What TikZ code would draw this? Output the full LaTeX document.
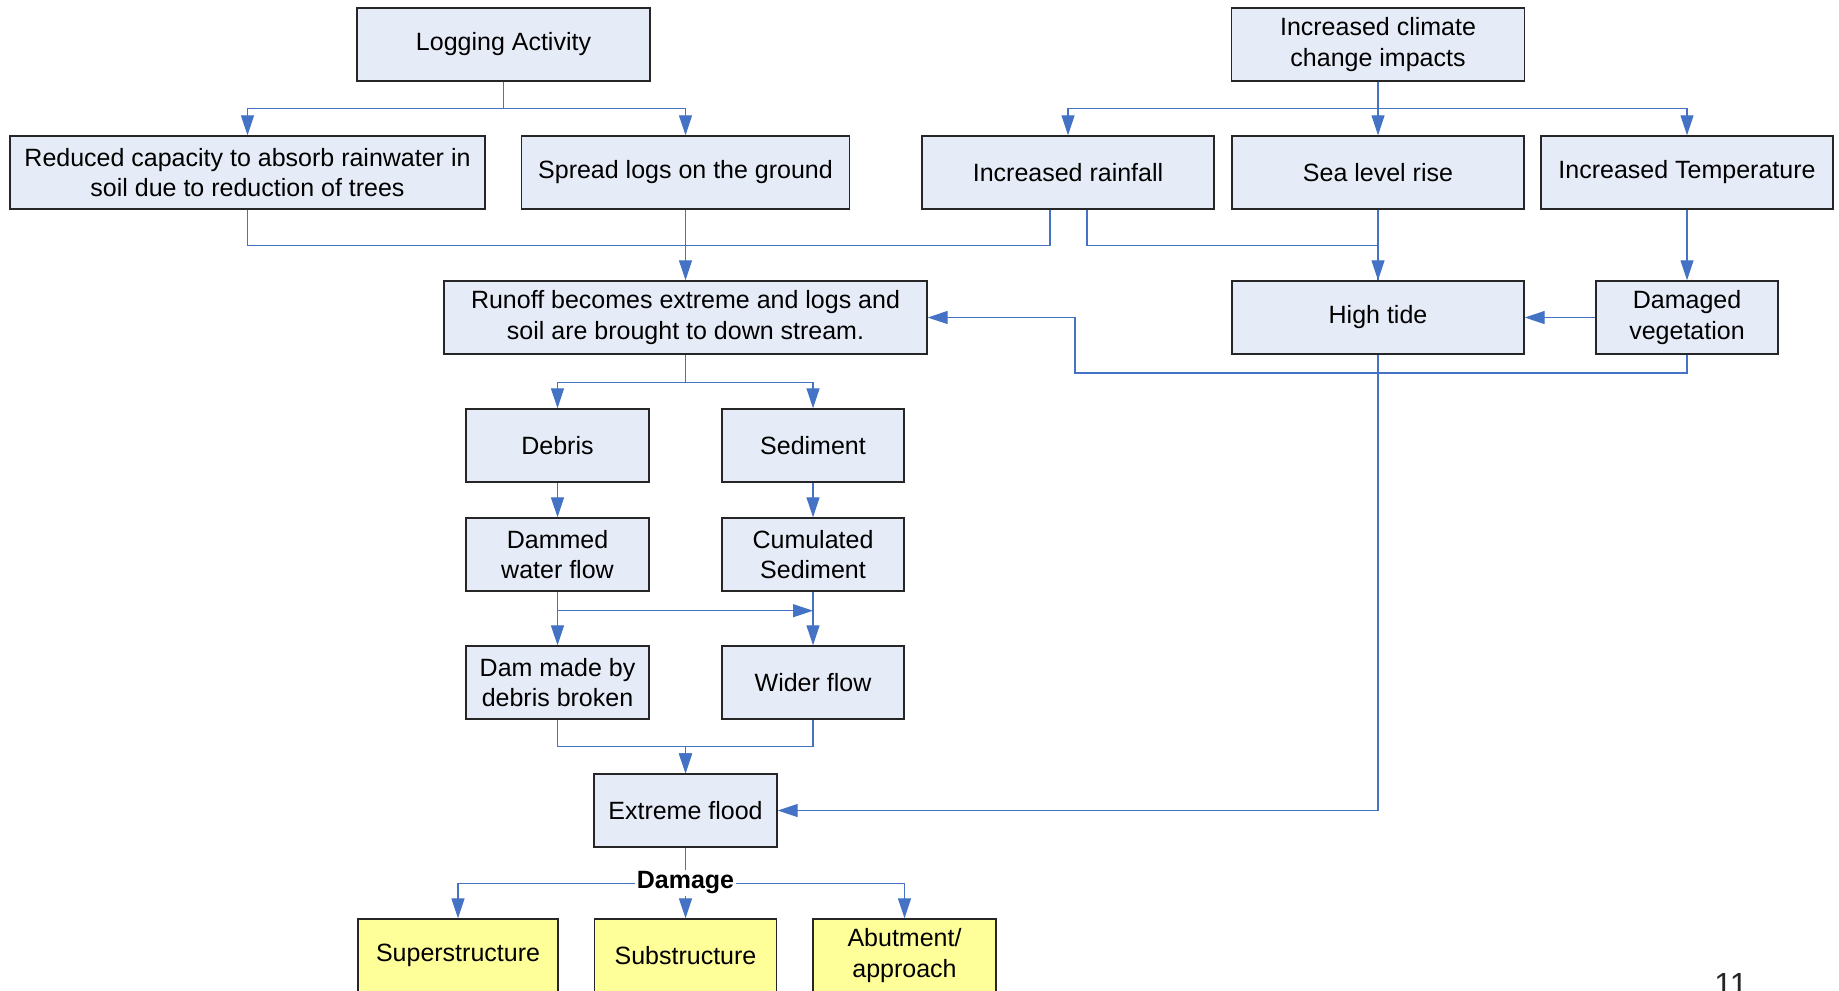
\documentclass[tikz,border=0pt]{standalone}
\usepackage{fontspec}
\setmainfont{Liberation Sans}
\usetikzlibrary{arrows.meta}
\definecolor{boxfill}{RGB}{230,236,247}
\definecolor{yelfill}{RGB}{255,255,153}
\definecolor{linkblue}{RGB}{68,114,196}
\tikzset{
  box/.style={draw=black!85, line width=0.7pt, fill=boxfill, inner sep=0pt, align=center,
    minimum height=36.5pt, font=\fontsize{12.5}{15.25}\selectfont},
  ybox/.style={box, fill=yelfill},
  lnk/.style={draw=linkblue, line width=0.6pt},
  conn/.style={lnk, -{Triangle[length=10pt,width=6.5pt]}},
}
\begin{document}
\begin{tikzpicture}[x=0.5pt, y=-0.5pt]
\useasboundingbox (0,0) rectangle (1839,990);
\clip (0,0) rectangle (1839,990);
% nodes
\node[box, minimum width=146.5pt] (log) at (503.5,44.5) {Logging Activity};
\node[box, minimum width=146.5pt] (clim) at (1378,44.5) {Increased climate\\change impacts};
\node[box, minimum width=237.5pt] (red) at (247.5,172.5) {Reduced capacity to absorb rainwater in\\soil due to reduction of trees};
\node[box, minimum width=164pt] (spread) at (685.5,172.5) {Spread logs on the ground};
\node[box, minimum width=146pt] (rain) at (1068,172.5) {Increased rainfall};
\node[box, minimum width=146pt] (sea) at (1378,172.5) {Sea level rise};
\node[box, minimum width=146pt] (temp) at (1687,172.5) {Increased Temperature};
\node[box, minimum width=241.5pt] (runoff) at (685.5,317.5) {Runoff becomes extreme and logs and\\soil are brought to down stream.};
\node[box, minimum width=146pt] (high) at (1378,317.5) {High tide};
\node[box, minimum width=91pt] (veg) at (1687,317.5) {Damaged\\vegetation};
\node[box, minimum width=91.5pt] (debris) at (557.5,445.5) {Debris};
\node[box, minimum width=91pt] (sed) at (813,445.5) {Sediment};
\node[box, minimum width=91.5pt] (dammed) at (557.5,554.5) {Dammed\\water flow};
\node[box, minimum width=91pt] (cum) at (813,554.5) {Cumulated\\Sediment};
\node[box, minimum width=91.5pt] (dam) at (557.5,682.5) {Dam made by\\debris broken};
\node[box, minimum width=91pt] (wider) at (813,682.5) {Wider flow};
\node[box, minimum width=91.5pt] (flood) at (685.5,810.5) {Extreme flood};
\node[ybox, minimum width=100pt] (sup) at (458,955.5) {Superstructure};
\node[ybox, minimum width=91pt] (sub) at (685.5,955.5) {Substructure};
\node[ybox, minimum width=91.5pt] (abut) at (904.5,955.5) {Abutment/\\approach};
% helper coordinates
\path (rain.south) ++(-18,0) coordinate (rl);
\path (rain.south) ++(19,0) coordinate (rr);
\coordinate (vb) at (1075,373);
\path (dammed.south) ++(0,19) coordinate (h1);
\path (cum.south) ++(0,19) coordinate (h2);
% connectors
\draw[conn] (log.south) -- ++(0,27) -| (red.north);
\draw[conn] (log.south) -- ++(0,27) -| (spread.north);
\draw[conn] (clim.south) -- ++(0,27) -| (rain.north);
\draw[conn] (clim.south) -- ++(0,27) -| (temp.north);
\draw[conn] (clim.south) -- (sea.north);
\draw[lnk] (red.south) -- ++(0,36) -| (spread.south);
\draw[lnk] (rl) -- ++(0,36) -| (spread.south);
\draw[conn] (spread.south) -- (runoff.north);
\draw[lnk] (sea.south) -- (high.north);
\draw[conn] (rr) -- ++(0,36) -| (high.north);
\draw[conn] (temp.south) -- (veg.north);
\draw[conn] (veg.west) -- (high.east);
\draw[conn] (veg.south) |- (vb) |- (runoff.east);
\draw[conn] (high.south) |- (flood.east);
\draw[conn] (runoff.south) -- ++(0,28) -| (debris.north);
\draw[conn] (runoff.south) -- ++(0,28) -| (sed.north);
\draw[conn] (debris.south) -- (dammed.north);
\draw[conn] (sed.south) -- (cum.north);
\draw[conn] (dammed.south) -- (dam.north);
\draw[conn] (cum.south) -- (wider.north);
\draw[conn] (h1) -- (h2);
\draw[conn] (dam.south) -- ++(0,27) -| (flood.north);
\draw[conn] (wider.south) -- ++(0,27) -| (flood.north);
\draw[conn] (flood.south) -- ++(0,36) -| (sup.north);
\draw[conn] (flood.south) -- ++(0,36) -| (abut.north);
\draw[conn] (flood.south) -- (sub.north);
\node[fill=white, inner sep=1pt, font=\fontsize{12.5}{15}\selectfont\bfseries] (dmg) at (685.5,883) {Damage};
\node[anchor=base, inner sep=0pt, text=black!85, font=\fontsize{16}{19}\selectfont] (pg) at (1731,995) {11};
\end{tikzpicture}
\end{document}
